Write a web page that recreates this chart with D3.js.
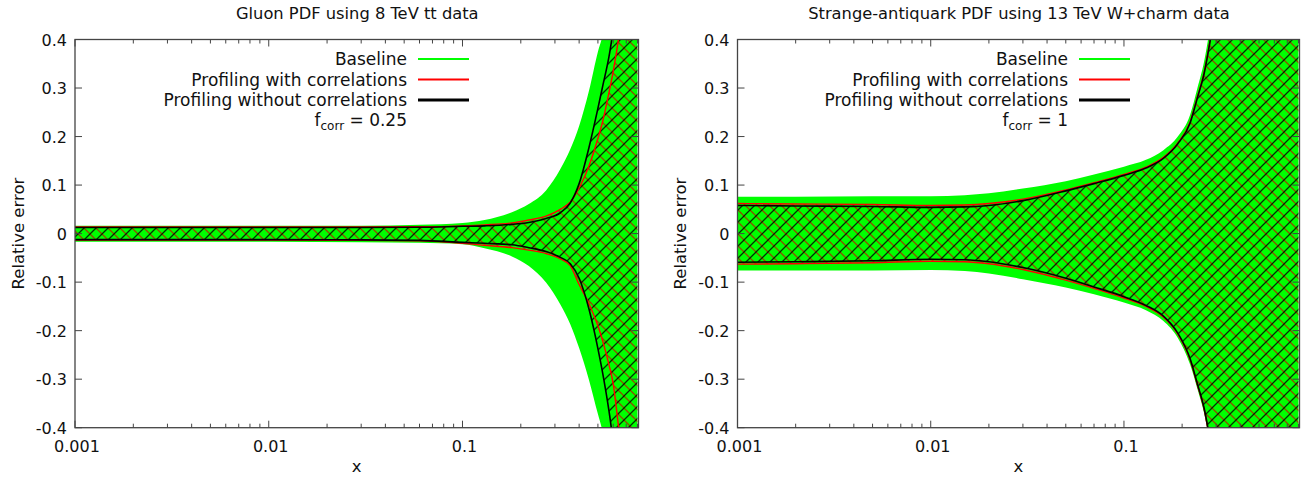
<!DOCTYPE html>
<html><head><meta charset="utf-8">
<script src="https://cdn.jsdelivr.net/npm/d3@7"></script>
<style>
html,body{margin:0;padding:0;background:#fff;}
svg{display:block;font-family:"DejaVu Sans",sans-serif;}
</style></head>
<body>
<svg id="chart" width="1301" height="478"></svg>
<script>
// ---------------- data ----------------
const panelTitles = ["Gluon PDF using 8 TeV tt data", "Strange-antiquark PDF using 13 TeV W+charm data"];
const fcorrValues = ["0.25", "1"];
const legendLabels = ["Baseline", "Profiling with correlations", "Profiling without correlations"];
const xTickValues = [0.001, 0.01, 0.1];
const xTickLabels = ["0.001", "0.01", "0.1"];
const yTickValues = [0.4, 0.3, 0.2, 0.1, 0, -0.1, -0.2, -0.3, -0.4];
const yTickLabels = ["0.4", "0.3", "0.2", "0.1", "0", "-0.1", "-0.2", "-0.3", "-0.4"];
const xDomain = [0.001, 0.81];
const yDomain = [-0.4, 0.4];

// Gluon (left)
const gluonX          = [0.001, 0.003, 0.01, 0.03, 0.06, 0.1, 0.13, 0.18, 0.22, 0.27, 0.32, 0.36, 0.4, 0.45, 0.5, 0.53, 0.57, 0.6, 0.64, 0.7, 0.8];
const gluonBaseHi     = [0.016, 0.016, 0.016, 0.016, 0.018, 0.022, 0.028, 0.044, 0.061, 0.089, 0.133, 0.174, 0.222, 0.295, 0.375, 0.41, 0.48, 0.53, 0.6, 0.72, 0.95];
const gluonBaseLo     = [-0.017, -0.017, -0.017, -0.018, -0.019, -0.022, -0.03, -0.047, -0.067, -0.101, -0.146, -0.187, -0.236, -0.302, -0.372, -0.41, -0.48, -0.53, -0.6, -0.72, -0.95];
const gluonCorrHi     = [0.0135, 0.0135, 0.0135, 0.0135, 0.014, 0.016, 0.018, 0.022, 0.028, 0.036, 0.05, 0.065, 0.094, 0.14, 0.196, 0.232, 0.29, 0.335, 0.403, 0.52, 0.75];
const gluonCorrLo     = [-0.0135, -0.0135, -0.0135, -0.014, -0.015, -0.02, -0.024, -0.029, -0.034, -0.041, -0.052, -0.066, -0.105, -0.145, -0.19, -0.222, -0.27, -0.31, -0.4, -0.52, -0.75];
const gluonNoCorrHi   = [0.0125, 0.0125, 0.0125, 0.0125, 0.013, 0.015, 0.016, 0.019, 0.023, 0.031, 0.043, 0.063, 0.103, 0.178, 0.258, 0.305, 0.364, 0.42, 0.5, 0.62, 0.85];
const gluonNoCorrLo   = [-0.0125, -0.0125, -0.0125, -0.013, -0.014, -0.018, -0.02, -0.023, -0.029, -0.037, -0.049, -0.062, -0.092, -0.156, -0.237, -0.289, -0.365, -0.43, -0.52, -0.65, -0.88];

// Strange antiquark (right)
const strangeX        = [0.001, 0.002, 0.005, 0.01, 0.015, 0.02, 0.03, 0.05, 0.07, 0.1, 0.13, 0.16, 0.19, 0.22, 0.24, 0.26, 0.28, 0.32, 0.4, 0.6, 0.8];
const strangeBaseHi   = [0.076, 0.076, 0.077, 0.077, 0.079, 0.083, 0.093, 0.108, 0.122, 0.138, 0.152, 0.172, 0.2, 0.245, 0.3, 0.355, 0.43, 0.6, 1.0, 2.0, 3.0];
const strangeBaseLo   = [-0.076, -0.076, -0.076, -0.075, -0.077, -0.082, -0.094, -0.111, -0.125, -0.142, -0.158, -0.18, -0.215, -0.27, -0.32, -0.37, -0.44, -0.6, -1.0, -2.0, -3.0];
const strangeCorrHi   = [0.062, 0.061, 0.06, 0.058, 0.059, 0.062, 0.071, 0.09, 0.105, 0.122, 0.137, 0.157, 0.187, 0.23, 0.282, 0.332, 0.402, 0.56, 0.95, 1.9, 2.9];
const strangeCorrLo   = [-0.063, -0.062, -0.06, -0.057, -0.058, -0.062, -0.074, -0.096, -0.113, -0.133, -0.15, -0.172, -0.207, -0.26, -0.312, -0.362, -0.432, -0.59, -0.98, -2.0, -3.0];
const strangeNoCorrHi = [0.058, 0.057, 0.056, 0.054, 0.055, 0.058, 0.068, 0.088, 0.103, 0.12, 0.135, 0.155, 0.185, 0.228, 0.28, 0.33, 0.4, 0.56, 0.95, 1.9, 2.9];
const strangeNoCorrLo = [-0.059, -0.058, -0.056, -0.053, -0.054, -0.058, -0.07, -0.092, -0.11, -0.13, -0.148, -0.17, -0.205, -0.258, -0.31, -0.36, -0.43, -0.59, -0.98, -2.0, -3.0];

// ---------------- drawing ----------------
const svg = d3.select("#chart");
const defs = svg.append("defs");

const hb = defs.append("pattern").attr("id", "hatchBlack").attr("patternUnits", "userSpaceOnUse")
  .attr("width", 12).attr("height", 12);
hb.append("path").attr("d", "M-3,3 L3,-3 M0,12 L12,0 M9,15 L15,9")
  .attr("stroke", "#000").attr("stroke-opacity", 0.8).attr("stroke-width", 1.3).attr("fill", "none");
const hr = defs.append("pattern").attr("id", "hatchRed").attr("patternUnits", "userSpaceOnUse")
  .attr("width", 12).attr("height", 12);
hr.append("path").attr("d", "M-3,9 L3,15 M0,0 L12,12 M9,-3 L15,3")
  .attr("stroke", "#b02000").attr("stroke-opacity", 0.8).attr("stroke-width", 1.3).attr("fill", "none");

const panels = [
  { left: 75, right: 638.5, top: 39.5, bottom: 427.7, yLabelX: 18,
    x: gluonX, bHi: gluonBaseHi, bLo: gluonBaseLo, cHi: gluonCorrHi, cLo: gluonCorrLo, nHi: gluonNoCorrHi, nLo: gluonNoCorrLo,
    legendX: 407, title: panelTitles[0], fcorr: fcorrValues[0] },
  { left: 737.5, right: 1299.5, top: 39.5, bottom: 427.7, yLabelX: 680,
    x: strangeX, bHi: strangeBaseHi, bLo: strangeBaseLo, cHi: strangeCorrHi, cLo: strangeCorrLo, nHi: strangeNoCorrHi, nLo: strangeNoCorrLo,
    legendX: 1068, title: panelTitles[1], fcorr: fcorrValues[1] }
];

const textColor = "#111";

panels.forEach((p, i) => {
  const xs = d3.scaleLog().domain(xDomain).range([p.left, p.right]);
  const ys = d3.scaleLinear().domain(yDomain).range([p.bottom, p.top]);
  const g = svg.append("g");
  const clipId = "clip" + i;
  defs.append("clipPath").attr("id", clipId).append("rect")
    .attr("x", p.left).attr("y", p.top).attr("width", p.right - p.left).attr("height", p.bottom - p.top);

  const rows = p.x.map((xv, k) => ({ x: xv, bHi: p.bHi[k], bLo: p.bLo[k], cHi: p.cHi[k], cLo: p.cLo[k], nHi: p.nHi[k], nLo: p.nLo[k] }));
  const area = (hi, lo) => d3.area().curve(d3.curveMonotoneX)
    .x(d => xs(d.x)).y0(d => ys(d[lo])).y1(d => ys(d[hi]));
  const line = key => d3.line().curve(d3.curveMonotoneX).x(d => xs(d.x)).y(d => ys(d[key]));

  const plot = g.append("g").attr("clip-path", `url(#${clipId})`);
  plot.append("path").datum(rows).attr("d", area("bHi", "bLo")).attr("fill", "#00ff00");
  plot.append("path").datum(rows).attr("d", area("cHi", "cLo")).attr("fill", "url(#hatchRed)");
  plot.append("path").datum(rows).attr("d", area("nHi", "nLo")).attr("fill", "url(#hatchBlack)");
  ["cHi", "cLo"].forEach(k => plot.append("path").datum(rows).attr("d", line(k))
    .attr("fill", "none").attr("stroke", "#ff0000").attr("stroke-width", 1.4));
  ["nHi", "nLo"].forEach(k => plot.append("path").datum(rows).attr("d", line(k))
    .attr("fill", "none").attr("stroke", "#000").attr("stroke-width", 1.6));

  // frame
  g.append("rect").attr("x", p.left).attr("y", p.top).attr("width", p.right - p.left).attr("height", p.bottom - p.top)
    .attr("fill", "none").attr("stroke", "#444").attr("stroke-width", 1.3);

  // x ticks (major + minor, mirrored on top)
  const minor = [];
  for (let e = -3; e <= 0; e++) for (let m = 2; m <= 9; m++) {
    const v = m * Math.pow(10, e);
    if (v <= xDomain[1]) minor.push(v);
  }
  const tickG = g.append("g").attr("stroke", "#444").attr("stroke-width", 1);
  xTickValues.forEach(v => {
    tickG.append("line").attr("x1", xs(v)).attr("x2", xs(v)).attr("y1", p.bottom).attr("y2", p.bottom - 7);
    tickG.append("line").attr("x1", xs(v)).attr("x2", xs(v)).attr("y1", p.top).attr("y2", p.top + 7);
  });
  minor.forEach(v => {
    tickG.append("line").attr("x1", xs(v)).attr("x2", xs(v)).attr("y1", p.bottom).attr("y2", p.bottom - 4);
    tickG.append("line").attr("x1", xs(v)).attr("x2", xs(v)).attr("y1", p.top).attr("y2", p.top + 4);
  });
  yTickValues.forEach(v => {
    tickG.append("line").attr("x1", p.left).attr("x2", p.left + 7).attr("y1", ys(v)).attr("y2", ys(v));
    tickG.append("line").attr("x1", p.right).attr("x2", p.right - 7).attr("y1", ys(v)).attr("y2", ys(v));
  });

  // tick labels
  xTickValues.forEach((v, k) => {
    g.append("text").attr("x", xs(v) + 2).attr("y", p.bottom + 24).attr("text-anchor", "middle")
      .attr("font-size", 16).attr("fill", textColor).text(xTickLabels[k]);
  });
  yTickValues.forEach((v, k) => {
    g.append("text").attr("x", p.left - 8).attr("y", ys(v) + 6).attr("text-anchor", "end")
      .attr("font-size", 16).attr("fill", textColor).text(yTickLabels[k]);
  });

  // axis labels
  const cx = (p.left + p.right) / 2;
  g.append("text").attr("x", cx).attr("y", 472).attr("text-anchor", "middle")
    .attr("font-size", 16.5).attr("fill", textColor).text("x");
  g.append("text").attr("transform", `translate(${p.yLabelX + 6},${(p.top + p.bottom) / 2}) rotate(-90)`)
    .attr("text-anchor", "middle").attr("font-size", 16.5).attr("fill", textColor).text("Relative error");

  // title
  g.append("text").attr("x", cx + 0.5).attr("y", 19).attr("text-anchor", "middle")
    .attr("font-size", 16.3).attr("fill", textColor).text(p.title);

  // legend
  const legendColors = ["#00ff00", "#ff0000", "#000"];
  const legendWidths = [2.2, 2.2, 2.8];
  legendLabels.forEach((lab, k) => {
    const yy = 59 + k * 20.5;
    g.append("text").attr("x", p.legendX).attr("y", yy + 6).attr("text-anchor", "end")
      .attr("font-size", 17).attr("fill", textColor).text(lab);
    g.append("line").attr("x1", p.legendX + 11).attr("x2", p.legendX + 62).attr("y1", yy).attr("y2", yy)
      .attr("stroke", legendColors[k]).attr("stroke-width", legendWidths[k]);
  });
  const ft = g.append("text").attr("x", p.legendX).attr("y", 126).attr("text-anchor", "end")
    .attr("font-size", 17).attr("fill", textColor);
  ft.append("tspan").text("f");
  ft.append("tspan").attr("dy", 4).attr("font-size", 12).text("corr");
  ft.append("tspan").attr("dy", -4).text(" = " + p.fcorr);
});
</script>
</body></html>
